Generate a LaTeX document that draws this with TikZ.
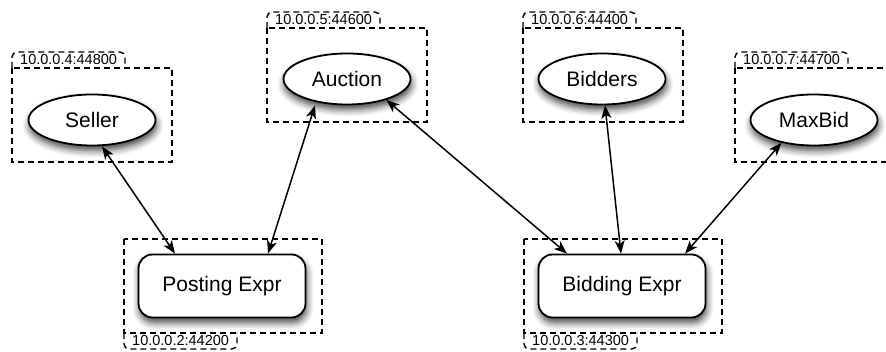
\documentclass[tikz,border=0pt]{standalone}
\usepackage{fontspec}
\setmainfont{Liberation Sans}
\usetikzlibrary{shapes.geometric,shadows.blur,arrows.meta,calc}
\begin{document}
\begin{tikzpicture}[x=1pt,y=-1pt,
  dashbox/.style={line width=1.4pt, dash pattern=on 6pt off 4pt},
  tabtext/.style={anchor=west, inner sep=0pt, font=\fontsize{14.5}{16}\selectfont},
  shad/.style={blur shadow={shadow xshift=1pt, shadow yshift=-5pt, shadow blur radius=7pt, shadow opacity=75}},
  proc/.style={ellipse, draw, line width=1.8pt, fill=white, minimum width=127pt, minimum height=51pt, inner sep=0pt, font=\fontsize{21}{24}\selectfont, shad},
  expr/.style={rectangle, rounded corners=14pt, draw, line width=1.8pt, fill=white, minimum width=167pt, minimum height=63pt, inner sep=0pt, font=\fontsize{21}{24}\selectfont, shad},
  conn/.style={line width=1.5pt, {Stealth[length=13pt,width=10pt,inset=3.5pt]}-{Stealth[length=13pt,width=10pt,inset=3.5pt]}}
]
\useasboundingbox (0,0) rectangle (886,352);

% group boxes
\draw[dashbox] (12,68) rectangle (172,162);
\draw[dashbox] (267,28) rectangle (427,122);
\draw[dashbox] (523,28) rectangle (683,122);
\draw[dashbox] (735,68) rectangle (895,162);
\draw[dashbox] (124,239) rectangle (322,333);
\draw[dashbox] (524,239) rectangle (722,333);

% top tabs
\draw[dashbox, rounded corners=5pt] (12,68) -- (12,52) -- (125,52) -- (125,68);
\node[tabtext] (l4) at (20,60) {10.0.0.4:44800};
\draw[dashbox, rounded corners=5pt] (267,28) -- (267,12) -- (380,12) -- (380,28);
\node[tabtext] (l5) at (275,20) {10.0.0.5:44600};
\draw[dashbox, rounded corners=5pt] (523,28) -- (523,12) -- (636,12) -- (636,28);
\node[tabtext] (l6) at (531,20) {10.0.0.6:44400};
\draw[dashbox, rounded corners=5pt] (735,68) -- (735,52) -- (848,52) -- (848,68);
\node[tabtext] (l7) at (743,60) {10.0.0.7:44700};

% bottom tabs
\draw[dashbox, rounded corners=5pt] (124,333) -- (124,349) -- (237,349) -- (237,333);
\node[tabtext] (l2) at (132,341) {10.0.0.2:44200};
\draw[dashbox, rounded corners=5pt] (524,333) -- (524,349) -- (637,349) -- (637,333);
\node[tabtext] (l3) at (532,341) {10.0.0.3:44300};

% nodes
\node[proc] (seller) at (92,120) {Seller};
\node[proc] (auction) at (347,79) {Auction};
\node[proc] (bidders) at (602,79) {Bidders};
\node[proc] (maxbid) at (814,120) {MaxBid};
\node[expr] (posting) at (222,286) {Posting Expr};
\node[expr] (bidding) at (622,286) {Bidding Expr};

% connectors
\draw[conn] ([xshift=10pt]seller.south) -- ([xshift=-47pt]posting.north);
\draw[conn] ([xshift=-32pt]auction.south) -- ([xshift=46pt]posting.north);
\draw[conn] (auction.-28) -- ([xshift=-55pt]bidding.north);
\draw[conn] ([xshift=3pt]bidders.south) -- ([xshift=-1pt]bidding.north);
\draw[conn] (maxbid.-145) -- ([xshift=63pt]bidding.north);
\end{tikzpicture}
\end{document}
